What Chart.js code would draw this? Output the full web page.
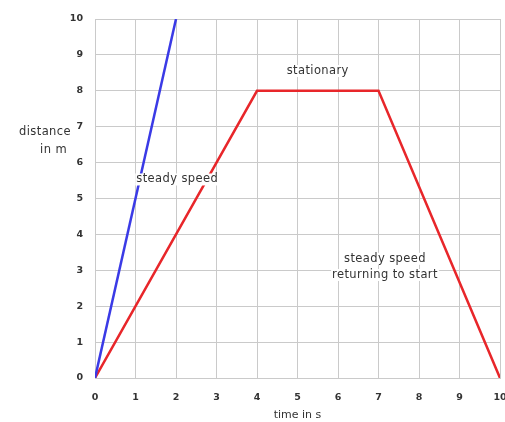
<!DOCTYPE html>
<html>
<head>
<meta charset="utf-8">
<script src="https://cdn.jsdelivr.net/npm/chart.js@4/dist/chart.umd.min.js"></script>
<style>
html,body{margin:0;padding:0;background:#fff;}
#wrap{position:relative;width:505px;height:422px;}
</style>
</head>
<body>
<div id="wrap"><canvas id="c" width="505" height="422"></canvas></div>
<script>
// Data
const blueTime = [0, 2];
const blueDistance = [0, 10];
const redTime = [0, 4, 7, 10];
const redDistance = [0, 8, 8, 0];
const xTicks = [0,1,2,3,4,5,6,7,8,9,10];
const yTicks = [0,1,2,3,4,5,6,7,8,9,10];
const xTitle = "time in s";
const yTitleLines = ["distance", "in m"];
const noteTexts = ["stationary", "steady speed", "steady speed", "returning to start"];
const noteX = [5.5, 2.03, 7.16, 7.16];
const noteY = [8.55, 5.53, 3.32, 2.87];

const FONT = '"DejaVu Sans", Verdana, sans-serif';
const toPts = (xs, ys) => xs.map((x, i) => ({x: x, y: ys[i]}));

const notesPlugin = {
  id: 'notes',
  afterDatasetsDraw(chart) {
    const ctx = chart.ctx;
    const xs = chart.scales.x, ys = chart.scales.y;
    ctx.save();
    ctx.font = '11.5px ' + FONT;
    try { ctx.letterSpacing = '0.4px'; } catch (e) {}
    ctx.textAlign = 'center';
    ctx.textBaseline = 'middle';
    noteTexts.forEach((t, i) => {
      const px = xs.getPixelForValue(noteX[i]), py = ys.getPixelForValue(noteY[i]);
      const w = ctx.measureText(t).width;
      ctx.fillStyle = '#fff';
      ctx.fillRect(px - w / 2 - 1, py - 6, w + 2, 12);
    });
    ctx.fillStyle = '#333';
    noteTexts.forEach((t, i) => {
      ctx.fillText(t, xs.getPixelForValue(noteX[i]), ys.getPixelForValue(noteY[i]));
    });
    // y-axis title, horizontal, beside tick 7
    ctx.textAlign = 'right';
    const yy = ys.getPixelForValue(7);
    ctx.fillText(yTitleLines[0], 71, yy + 5);
    ctx.fillText(yTitleLines[1], 67, yy + 23);
    ctx.restore();
  }
};

new Chart(document.getElementById('c'), {
  type: 'scatter',
  data: {
    datasets: [
      {data: toPts(blueTime, blueDistance), showLine: true, borderColor: '#3a3ae6', borderWidth: 2.5, pointRadius: 0, tension: 0},
      {data: toPts(redTime, redDistance), showLine: true, borderColor: '#e8262a', borderWidth: 2.5, pointRadius: 0, tension: 0}
    ]
  },
  options: {
    responsive: false,
    animation: false,
    layout: {padding: {left: 0, right: 5, top: 19, bottom: 0}},
    plugins: {legend: {display: false}, tooltip: {enabled: false}},
    scales: {
      x: {
        type: 'linear', min: 0, max: 10,
        afterBuildTicks: s => { s.ticks = xTicks.map(v => ({value: v})); },
        afterFit: s => { s.height = 44; s.paddingRight = 0; s.paddingLeft = 0; },
        grid: {color: '#cacaca', lineWidth: 1, drawTicks: false},
        border: {color: '#cacaca'},
        ticks: {color: '#333', font: {size: 9.5, weight: 'bold', family: FONT}, padding: 14},
        title: {display: true, text: xTitle, color: '#333', font: {size: 11, family: FONT}, padding: {top: 2, bottom: 0}}
      },
      y: {
        type: 'linear', min: 0, max: 10,
        afterBuildTicks: s => { s.ticks = yTicks.map(v => ({value: v})); },
        afterFit: s => { s.width = 95; },
        grid: {color: '#cacaca', lineWidth: 1, drawTicks: false},
        border: {color: '#cacaca'},
        ticks: {color: '#333', font: {size: 9.5, weight: 'bold', family: FONT}, padding: 12}
      }
    }
  },
  plugins: [notesPlugin]
});
</script>
</body>
</html>
